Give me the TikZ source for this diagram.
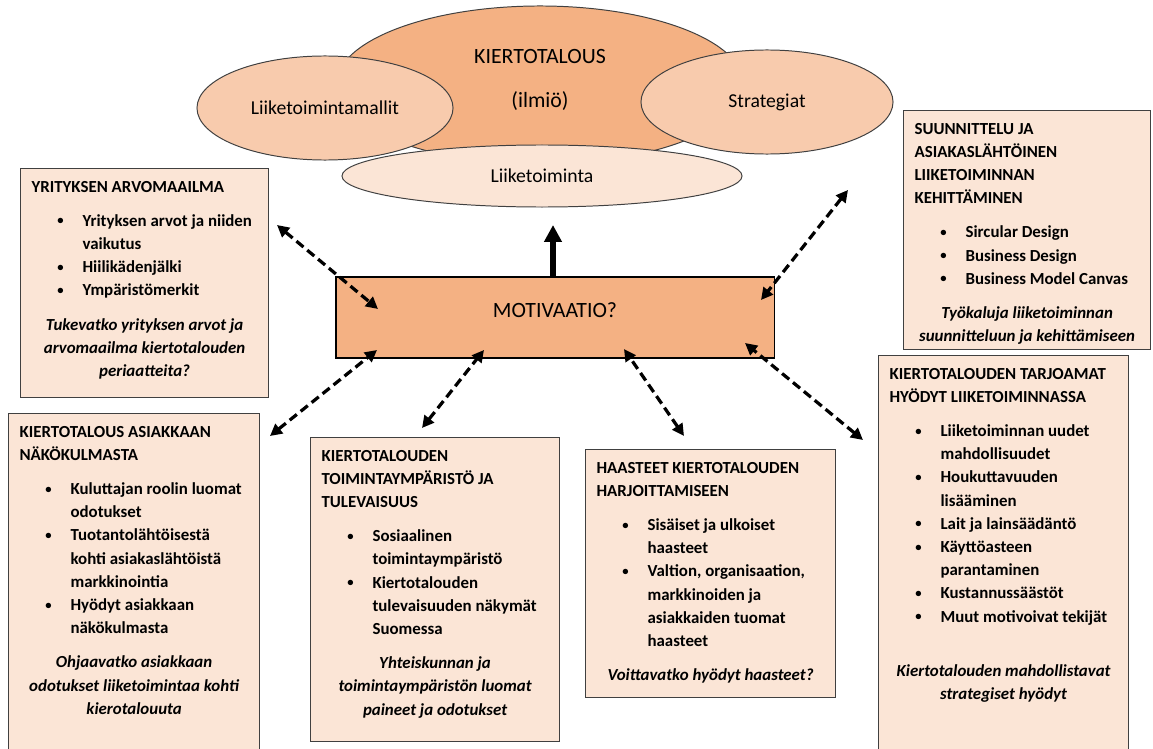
\documentclass[tikz,border=0pt]{standalone}
\usepackage{fontspec}
\setmainfont{Carlito}
\usetikzlibrary{arrows.meta, shapes.geometric}

\definecolor{oranssi}{HTML}{F4B183}
\definecolor{vaalea}{HTML}{F8CBAD}
\definecolor{hailea}{HTML}{FBE5D6}
\definecolor{reuna}{HTML}{404040}

\newdimen\pxu \pxu=0.025cm
\newcommand{\otsikko}[1]{{\rightskip=-40pt plus 1fil\rule{0pt}{23.5\pxu}#1\par}\vspace{11\pxu}}
\newcommand{\pallo}{\raisebox{1pt}{\fontsize{9pt}{9pt}\selectfont\textbullet}}
\newcommand{\kohta}[1]{\par\leftskip=51\pxu\rightskip=-40pt plus 1fil\noindent\llap{\pallo\hspace{19\pxu}}#1\par}
\newcommand{\kysymys}[1]{\par\vspace{11\pxu}{\centering\leftskip=-20pt plus 1fil\rightskip=-20pt plus 1fil\itshape #1\par}}

\begin{document}
\begin{tikzpicture}[x=0.025cm, y=-0.025cm,
  soikio/.style={ellipse, draw=reuna, line width=0.7pt, inner sep=0pt, font=\fontsize{14pt}{17pt}\selectfont},
  ruutu/.style={draw=reuna, line width=0.8pt, fill=hailea, anchor=north west, inner xsep=0.275cm, inner ysep=0pt,
    font=\fontsize{12pt}{16.5pt}\selectfont\bfseries},
  yhteys/.style={line width=2.3pt, dash pattern=on 6.5pt off 3.5pt, {Triangle[length=8.5pt,width=8.5pt]}-{Triangle[length=8.5pt,width=8.5pt]}}]
  \useasboundingbox (0,0) rectangle (1153,749);
  \clip (0,0) rectangle (1153,749);

  \node[soikio, fill=oranssi, minimum width=10.2cm, minimum height=3.95cm] (kierto) at (540,85) {};
  \node[soikio, fill=vaalea, minimum width=6.4cm, minimum height=2.6cm] (mallit) at (325,108) {Liiketoimintamallit};
  \node[soikio, fill=vaalea, minimum width=6.3cm, minimum height=2.6cm] (strat) at (767,102) {Strategiat};
  \node[soikio, fill=hailea, minimum width=10cm, minimum height=1.55cm] (liike) at (542,176) {Liiketoiminta};
  \node[align=center, font=\fontsize{15.5pt}{31.3pt}\selectfont] (kiertoteksti) at (540,80) {KIERTOTALOUS\\(ilmiö)};

  \node[draw=black, line width=0.8pt, fill=oranssi, minimum width=10.95cm, minimum height=2.025cm,
    text depth=10.7pt, font=\fontsize{15.5pt}{18pt}\selectfont] (mot) at (555,317.5) {MOTIVAATIO?};

  \node[ruutu] (yritys) at (20,168) {\parbox[t][229\pxu][t]{226\pxu}{%
    \otsikko{YRITYKSEN ARVOMAAILMA}
    \kohta{Yrityksen arvot ja niiden\\vaikutus}
    \kohta{Hiilikädenjälki}
    \kohta{Ympäristömerkit}
    \kysymys{Tukevatko yrityksen arvot ja\\arvomaailma kiertotalouden\\periaatteita?}}};

  \node[ruutu] (suunnittelu) at (903,110) {\parbox[t][239\pxu][t]{225\pxu}{%
    \otsikko{SUUNNITTELU JA\\ASIAKASLÄHTÖINEN\\LIIKETOIMINNAN\\KEHITTÄMINEN}
    \kohta{Sircular Design}
    \kohta{Business Design}
    \kohta{Business Model Canvas}
    \kysymys{Työkaluja liiketoiminnan\\suunnitteluun ja kehittämiseen}}};

  \node[ruutu] (asiakas) at (8,413) {\parbox[t][360\pxu][t]{229\pxu}{%
    \otsikko{KIERTOTALOUS ASIAKKAAN\\NÄKÖKULMASTA}
    \kohta{Kuluttajan roolin luomat\\odotukset}
    \kohta{Tuotantolähtöisestä\\kohti asiakaslähtöistä\\markkinointia}
    \kohta{Hyödyt asiakkaan\\näkökulmasta}
    \kysymys{Ohjaavatko asiakkaan\\odotukset liiketoimintaa kohti\\kierotalouuta}}};

  \node[ruutu] (ymparisto) at (310,437) {\parbox[t][304\pxu][t]{227\pxu}{%
    \otsikko{KIERTOTALOUDEN\\TOIMINTAYMPÄRISTÖ JA\\TULEVAISUUS}
    \kohta{Sosiaalinen\\toimintaympäristö}
    \kohta{Kiertotalouden\\tulevaisuuden näkymät\\Suomessa}
    \kysymys{Yhteiskunnan ja\\toimintaympäristön luomat\\paineet ja odotukset}}};

  \node[ruutu] (haasteet) at (585,449) {\parbox[t][248\pxu][t]{228\pxu}{%
    \otsikko{HAASTEET KIERTOTALOUDEN\\HARJOITTAMISEEN}
    \kohta{Sisäiset ja ulkoiset\\haasteet}
    \kohta{Valtion, organisaation,\\markkinoiden ja\\asiakkaiden tuomat\\haasteet}
    \kysymys{Voittavatko hyödyt haasteet?}}};

  \node[ruutu] (hyodyt) at (878,355) {\parbox[t][420\pxu][t]{228\pxu}{%
    \otsikko{KIERTOTALOUDEN TARJOAMAT\\HYÖDYT LIIKETOIMINNASSA}
    \kohta{Liiketoiminnan uudet\\mahdollisuudet}
    \kohta{Houkuttavuuden\\lisääminen}
    \kohta{Lait ja lainsäädäntö}
    \kohta{Käyttöasteen\\parantaminen}
    \kohta{Kustannussäästöt}
    \kohta{Muut motivoivat tekijät}
    \vspace{20\pxu}
    \kysymys{Kiertotalouden mahdollistavat\\strategiset hyödyt}}};

  \coordinate (ylos) at (553,225);
  \draw[line width=3.6pt, -{Triangle[length=12pt,width=12pt]}] (mot.north -| ylos) -- (ylos);

  \coordinate (p1) at (277,225); \coordinate (q1) at (378,309);
  \coordinate (p2) at (270,436); \coordinate (q2) at (377,350);
  \coordinate (p3) at (422,428); \coordinate (q3) at (484,350);
  \coordinate (p4) at (684,436); \coordinate (q4) at (624,349);
  \coordinate (p5) at (863,440); \coordinate (q5) at (745,343);
  \coordinate (p6) at (848,190); \coordinate (q6) at (761,300);
  \foreach \i in {1,...,6}
    \draw[yhteys] (p\i) -- (q\i);
\end{tikzpicture}
\end{document}
